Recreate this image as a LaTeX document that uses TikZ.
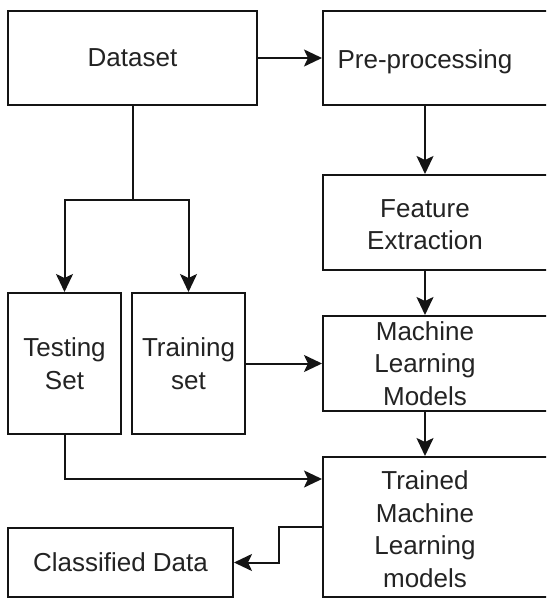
\documentclass[tikz,border=0pt]{standalone}
\usepackage{fontspec}
\setmainfont{Liberation Sans}
\usetikzlibrary{arrows.meta,positioning,calc}
\definecolor{lineclr}{RGB}{20,20,20}
\definecolor{txtclr}{RGB}{35,35,35}

\begin{document}
\begin{tikzpicture}[x=1pt,y=-1pt,
    stage/.style={draw=lineclr, line width=2pt, fill=white, text=txtclr,
      align=center, inner sep=0pt, font=\fontsize{26}{32.5}\selectfont},
    wide/.style={stage, minimum width=227pt},
    flow/.style={draw=lineclr, line width=2pt, -{Stealth[length=18pt,width=17pt,inset=4pt]}}]
    \useasboundingbox (0,0) rectangle (546,599);
    \clip (0,0) rectangle (546,599);
    \fill[white] (0,0) rectangle (546,599);
    % left column
    \node[stage, minimum width=249pt, minimum height=94pt] (data) at (132.5,58) {Dataset};
    \node[stage, minimum width=113pt, minimum height=141pt] (test) at (64.5,363.5) {Testing\\Set};
    \node[stage, minimum width=113pt, minimum height=141pt] (train) at (188.5,363.5) {Training\\set};
    \node[stage, minimum width=225pt, minimum height=69pt] (cls) at (120.5,562.5) {Classified Data};
    % right column, text centred on the arrow line
    \node[wide, minimum height=94pt,
      label={[stage, draw=none, fill=none, xshift=-11.5pt, yshift=-4pt]center:Pre-processing}] (pre) at (436.5,58) {};
    \node[wide, minimum height=95pt,
      label={[stage, draw=none, fill=none, xshift=-11.5pt, yshift=-2pt]center:Feature\\Extraction}] (feat) at (436.5,222.5) {};
    \node[wide, minimum height=95pt,
      label={[stage, draw=none, fill=none, xshift=-11.5pt]center:Machine\\Learning\\Models}] (ml) at (436.5,363.5) {};
    \node[wide, minimum height=140pt,
      label={[stage, draw=none, fill=none, xshift=-11.5pt, yshift=-2pt]center:Trained\\Machine\\Learning\\models}] (trained) at (436.5,527) {};
    \coordinate (col) at (425,0);
    \coordinate (split) at (132.5,200);
    % connectors
    \draw[flow] (data.east) -- (pre.west);
    \draw[flow] (pre.south -| col) -- (feat.north -| col);
    \draw[flow] (feat.south -| col) -- (ml.north -| col);
    \draw[flow] (ml.south -| col) -- (trained.north -| col);
    \draw[line width=2pt, draw=lineclr] (data.south) -- (split);
    \draw[flow] (split) -| (test.north);
    \draw[flow] (split) -| (train.north);
    \draw[flow] (train.east) -- (ml.west);
    \draw[flow] (test.south) |- ([yshift=-23pt]trained.north west);
    \draw[flow] (trained.west) -- ++(-43,0) |- (cls.east);
  \end{tikzpicture}
\end{document}
